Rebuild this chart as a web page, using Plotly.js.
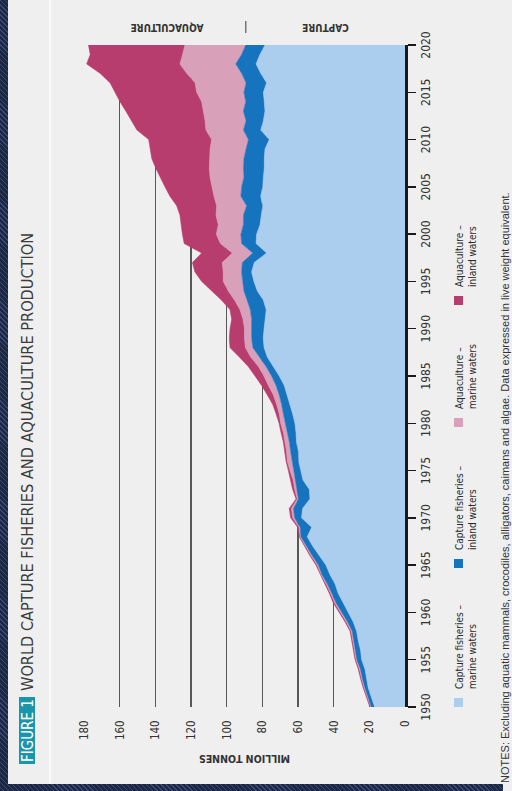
<!DOCTYPE html>
<html>
<head>
<meta charset="utf-8">
<script src="https://cdn.plot.ly/plotly-3.0.1.min.js"></script>
<style>
html,body{margin:0;padding:0;width:512px;height:791px;overflow:hidden;background:#efefef;}
#wrap{position:absolute;left:0;top:0;width:791px;height:512px;transform-origin:0 0;transform:translate(0,791px) rotate(-90deg);background:#efefef;}
#chart{position:absolute;left:0;top:0;width:791px;height:512px;}
.hatch{position:absolute;background:repeating-linear-gradient(135deg,#1c2645 0px,#1c2645 2.5px,#3b4a72 2.5px,#3b4a72 3.5px);}
</style>
</head>
<body>
<div id="wrap">
  <div id="chart"></div>
  <div class="hatch" style="left:0;top:0;width:791px;height:8px"></div>
  <div class="hatch" style="left:0;top:0;width:7px;height:503px"></div>
  <div style="position:absolute;left:7px;top:49px;width:784px;height:2px;background:#fafafa"></div>
</div>
<script>
// ---------- DATA (million tonnes) ----------
const years = [1950,1951,1952,1953,1954,1955,1956,1957,1958,1959,
  1960,1961,1962,1963,1964,1965,1966,1967,1968,1969,
  1970,1971,1972,1973,1974,1975,1976,1977,1978,1979,
  1980,1981,1982,1983,1984,1985,1986,1987,1988,1989,
  1990,1991,1992,1993,1994,1995,1996,1997,1998,1999,
  2000,2001,2002,2003,2004,2005,2006,2007,2008,2009,
  2010,2011,2012,2013,2014,2015,2016,2017,2018,2019,2020];

const captureMarine = [17.0,18.7,20.6,21.5,22.4,24.3,24.9,26.2,27.1,29.0,
  31.8,34.9,37.4,39.2,42.1,44.3,48.0,51.7,54.8,52.3,
  58.0,57.4,53.3,53.6,57.2,58.5,59.6,59.8,60.8,61.1,
  61.7,63.0,64.5,65.8,67.7,70.5,73.8,77.2,79.0,79.5,
  79.0,78.3,77.8,79.4,82.8,84.7,86.0,84.5,77.6,83.5,
  83.2,81.3,80.4,79.8,80.9,79.8,79.4,78.9,78.9,78.5,
  76.1,80.9,79.4,78.5,78.9,79.4,77.6,80.9,83.5,81.3,78.5];

const captureInland = [1.9,2.1,1.9,2.4,2.6,2.7,3.0,2.7,2.5,3.2,
  3.6,3.7,3.6,4.3,4.5,4.2,4.0,3.3,3.6,6.5,
  3.9,5.1,6.4,7.0,4.3,4.1,3.9,4.3,4.0,4.9,
  5.6,5.2,4.7,4.7,4.6,4.3,4.1,4.5,6.3,6.5,
  7.0,7.7,8.9,9.1,7.5,6.3,5.6,6.7,7.8,8.1,
  8.8,9.3,10.2,9.0,11.1,11.8,10.9,11.7,11.4,10.6,
  11.7,9.7,9.7,12.1,10.4,10.9,11.5,10.7,11.4,10.3,10.8];

const aquaMarine = [0.4,0.4,0.4,0.5,0.6,0.5,0.5,0.5,0.6,0.7,
  0.7,0.8,0.7,0.7,0.6,0.7,0.7,0.6,0.5,0.7,
  1.1,1.2,0.7,1.2,1.2,1.9,2.5,2.3,2.5,2.2,
  2.4,2.3,2.8,3.3,4.3,4.3,4.3,4.8,4.2,4.0,
  4.0,4.8,5.8,7.0,8.8,10.9,10.3,11.3,11.4,11.9,
  13.8,14.1,15.4,16.8,15.1,16.8,19.0,19.1,19.4,20.2,
  20.6,21.0,23.0,22.5,24.7,26.5,28.6,30.8,31.3,33.1,34.1];

const aquaInland = [0.4,0.4,0.5,0.5,0.6,0.5,0.6,0.5,0.6,0.7,
  0.7,0.8,0.7,0.7,0.5,0.7,0.6,0.5,0.4,0.7,
  1.1,1.2,0.7,1.2,1.3,0.9,0.7,0.9,0.9,1.3,
  0.9,1.8,2.2,3.4,3.8,5.0,5.7,6.4,8.6,8.5,
  8.1,6.4,5.6,7.3,9.3,12.1,15.9,16.7,17.2,20.3,
  19.0,20.9,20.2,22.4,24.7,26.2,28.1,30.1,32.3,33.7,
  35.3,38.7,41.2,43.4,45.8,45.8,47.7,48.6,52.3,51.8,54.1];

const seriesNames = ['Capture fisheries – marine waters','Capture fisheries – inland waters',
  'Aquaculture – marine waters','Aquaculture – inland waters'];
const legendLine1 = ['Capture fisheries –','Capture fisheries –','Aquaculture –','Aquaculture –'];
const legendLine2 = ['marine waters','inland waters','marine waters','inland waters'];
const groupLabels = ['CAPTURE','AQUACULTURE'];
const xTickVals = [1950,1955,1960,1965,1970,1975,1980,1985,1990,1995,2000,2005,2010,2015,2020];
const yTickVals = [0,20,40,60,80,100,120,140,160,180];
const titleText = 'WORLD CAPTURE FISHERIES AND AQUACULTURE PRODUCTION';
const figureTag = 'FIGURE 1';
const yTitle = 'MILLION TONNES';
const notesText = 'NOTES: Excluding aquatic mammals, crocodiles, alligators, caimans and algae. Data expressed in live weight equivalent.';

// ---------- STYLE ----------
const colors = ['#abcdee','#1574bd','#d9a0ba','#b83d6f'];
const NARROW = "'Liberation Sans Narrow','Arial Narrow','DejaVu Sans Condensed','Roboto Condensed',sans-serif";
const SANS = "'Liberation Sans',Arial,'DejaVu Sans',sans-serif";
const W = 791, H = 512, ML = 84, MR = 45, MT = 84, MB = 107;
const PW = W - ML - MR, PH = H - MT - MB;
const YMAX = 180;
const px = u => (u - ML) / PW;
const py = v => 1 - (v - MT) / PH;

const seriesData = [captureMarine, captureInland, aquaMarine, aquaInland];
const traces = seriesData.map((vals, i) => ({
  type: 'scatter', mode: 'lines', x: years, y: vals, name: seriesNames[i],
  stackgroup: 'one', line: {width: 0.6, color: colors[i]}, fillcolor: colors[i],
  showlegend: false, hoverinfo: 'x+y+name'
}));

const n = years.length - 1;
const capTotal = captureMarine[n] + captureInland[n];
const allTotal = capTotal + aquaMarine[n] + aquaInland[n];

const shapes = [
  {type:'rect', xref:'paper', yref:'paper', x0:px(27), x1:px(94), y0:py(19), y1:py(35),
   fillcolor:'#1996ab', line:{width:0}},
  {type:'line', xref:'paper', yref:'paper', x0:px(758), x1:px(770), y0:capTotal/YMAX, y1:capTotal/YMAX,
   line:{color:'#777', width:1.5}}
];
const annotations = [
  {text: figureTag, xref:'paper', yref:'paper', x:px(60.5), y:py(27.5), xanchor:'center', yanchor:'middle',
   showarrow:false, font:{family:NARROW, size:15, color:'#ffffff'}},
  {text: groupLabels[0], xref:'paper', yref:'paper', x:px(763.5), y:(capTotal/2)/YMAX, textangle:-90,
   xanchor:'center', yanchor:'middle', showarrow:false, font:{family:NARROW, size:10, color:'#333', weight:'bold'}},
  {text: groupLabels[1], xref:'paper', yref:'paper', x:px(763.5), y:((capTotal+allTotal)/2)/YMAX, textangle:-90,
   xanchor:'center', yanchor:'middle', showarrow:false, font:{family:NARROW, size:10, color:'#333', weight:'bold'}},
  {text: notesText, xref:'paper', yref:'paper', x:px(6), y:py(505), xanchor:'left', yanchor:'middle',
   showarrow:false, font:{family:SANS, size:11, color:'#333'}}
];
const legendLeft = [84, 223, 364, 486];
legendLeft.forEach((u, i) => {
  shapes.push({type:'rect', xref:'paper', yref:'paper', x0:px(u), x1:px(u+9), y0:py(454), y1:py(463),
    fillcolor:colors[i], line:{width:0}});
  annotations.push({text: legendLine1[i] + '<br>' + legendLine2[i], xref:'paper', yref:'paper',
    x:px(u+16), y:py(452), xanchor:'left', yanchor:'top', align:'left', showarrow:false,
    font:{family:NARROW, size:10, color:'#2a2a2a'}});
});

const layout = {
  width: W, height: H,
  margin: {l:ML, r:MR, t:MT, b:MB, pad:0},
  paper_bgcolor: 'rgba(0,0,0,0)', plot_bgcolor: '#efefef',
  title: {text: titleText, xref:'container', yref:'container', x: 100/W, xanchor:'left',
          y: 1 - 27.5/H, yanchor:'middle', font:{family:NARROW, size:16.2, color:'#3c3c3c'}},
  xaxis: {range:[1950,2020], tickvals:xTickVals, ticks:'outside', ticklen:8, tickwidth:1.3, tickcolor:'#1a1a1a',
          showline:true, linecolor:'#1a1a1a', linewidth:2.5, showgrid:false, zeroline:false,
          tickfont:{family:NARROW, size:12, color:'#333'}, fixedrange:true},
  yaxis: {range:[0,YMAX], tickvals:yTickVals, showgrid:true, gridcolor:'#585858', gridwidth:1.2, zeroline:false,
          showline:false, ticks:'outside', ticklen:10, tickcolor:'rgba(0,0,0,0)',
          tickfont:{family:NARROW, size:11.5, color:'#333'},
          title:{text:yTitle, standoff:12, font:{family:NARROW, size:10.5, color:'#333', weight:'bold'}}, fixedrange:true},
  shapes: shapes, annotations: annotations, showlegend:false
};
Plotly.newPlot('chart', traces, layout, {displayModeBar:false, staticPlot:true});
</script>
</body>
</html>
